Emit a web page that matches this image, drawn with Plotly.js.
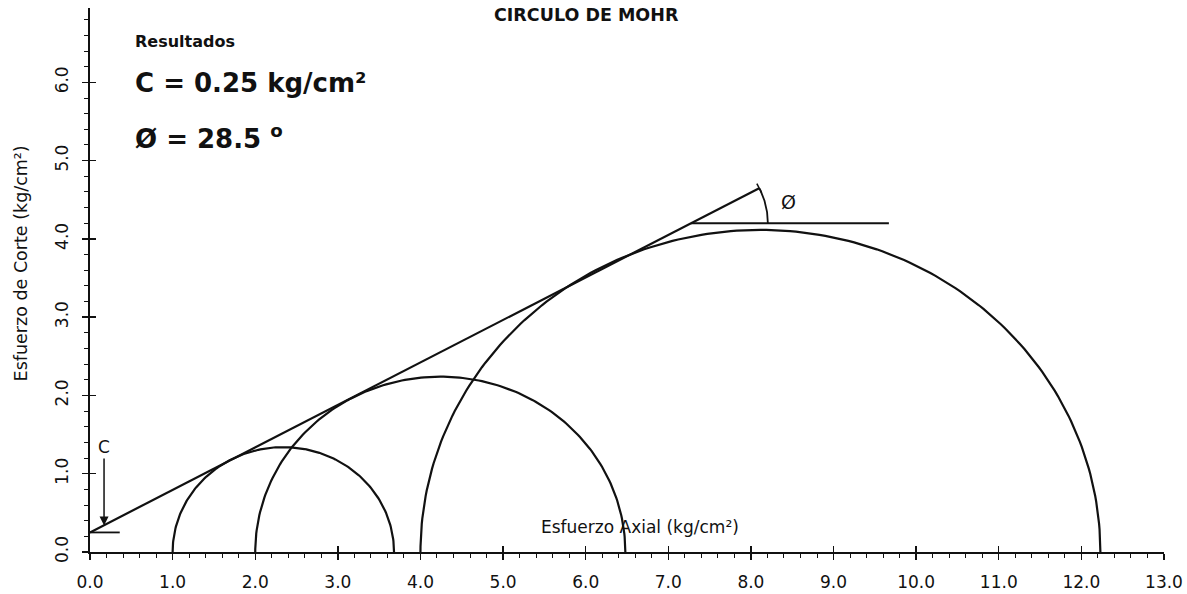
<!DOCTYPE html>
<html>
<head>
<meta charset="utf-8">
<script src="https://cdn.plot.ly/plotly-3.0.1.min.js"></script>
<style>
  html, body { margin: 0; padding: 0; background: #fff; }
  #chart { width: 1187px; height: 594px; }
</style>
</head>
<body>
<div id="chart"></div>
<script>
// circle limits (kg/cm2)
var sigma3 = [1.0, 2.0, 4.0];
var sigma1 = [3.68, 6.48, 12.23];

// failure envelope, c = 0.25 and phi = 28.5 deg
var envX = [0, 8.1];
var envY = [0.25, 4.648];

// horizontal reference line for the angle
var refX = [7.275, 9.67];
var refY = [4.2, 4.2];

// cohesion marker
var cLineX = [0, 0.36];
var cLineY = [0.25, 0.25];
var cArrow = {x: 0.17, tip: 0.34, label: 1.34};

// angle arc: center, radius (x, y units) and sweep in degrees
var arcCenter = [7.275, 4.2];
var arcRadius = [0.93, 0.98];
var arcSweep = [0, 27.24];

// little tick crossing the envelope end
var endTickX = [8.128, 8.072];
var endTickY = [4.591, 4.705];

var cohesion = '0.25';
var phi = '28.5';

var black = '#111';
var font = 'DejaVu Sans, Verdana, sans-serif';

var traces = [];

sigma3.forEach(function (s3, i) {
  var s1 = sigma1[i];
  var c = (s1 + s3) / 2, r = (s1 - s3) / 2;
  var xs = [], ys = [];
  for (var a = 0; a <= 180; a++) {
    var t = a * Math.PI / 180;
    xs.push(c + r * Math.cos(t));
    ys.push(r * Math.sin(t));
  }
  traces.push({x: xs, y: ys, mode: 'lines', line: {color: black, width: 2.2}});
});

traces.push({x: envX, y: envY, mode: 'lines', line: {color: black, width: 2.2}});
traces.push({x: refX, y: refY, mode: 'lines', line: {color: black, width: 1.8}});
traces.push({x: cLineX, y: cLineY, mode: 'lines', line: {color: black, width: 1.8}});
traces.push({x: endTickX, y: endTickY, mode: 'lines', line: {color: black, width: 1.5}});

var ax = [], ay = [];
for (var d = arcSweep[0]; d <= arcSweep[1]; d += 0.5) {
  var t = d * Math.PI / 180;
  ax.push(arcCenter[0] + arcRadius[0] * Math.cos(t));
  ay.push(arcCenter[1] + arcRadius[1] * Math.sin(t));
}
ax.push(envX[1]); ay.push(envY[1]);
traces.push({x: ax, y: ay, mode: 'lines', line: {color: black, width: 1.8}});

// overlay axes only to get ticks crossing the axis lines
traces.push({x: [], y: [], xaxis: 'x2', yaxis: 'y2', showlegend: false});

var xr = [0, 13], yr = [0, 6.95];

var layout = {
  width: 1187, height: 594,
  margin: {l: 90, r: 23, t: 8, b: 42},
  paper_bgcolor: '#fff', plot_bgcolor: '#fff',
  showlegend: false,
  font: {family: font, color: black},
  xaxis: {
    range: xr, dtick: 1, tick0: 0, tickformat: '.1f',
    showgrid: false, zeroline: false,
    showline: true, linecolor: black, linewidth: 1.6,
    ticks: 'outside', ticklen: 6, tickwidth: 1.4, tickcolor: black,
    minor: {dtick: 0.2, ticks: 'outside', ticklen: 4, tickwidth: 1, tickcolor: black},
    tickfont: {size: 17, family: font, color: black},
    ticklabelstandoff: 8
  },
  yaxis: {
    range: yr, dtick: 1, tick0: 0, tickformat: '.1f', tickangle: -90,
    showgrid: false, zeroline: false,
    showline: true, linecolor: black, linewidth: 1.6,
    ticks: 'outside', ticklen: 6, tickwidth: 1.4, tickcolor: black,
    minor: {dtick: 0.2, ticks: 'outside', ticklen: 4, tickwidth: 1, tickcolor: black},
    tickfont: {size: 17, family: font, color: black},
    ticklabelstandoff: 8
  },
  xaxis2: {
    overlaying: 'x', range: xr, dtick: 1, tick0: 0, showticklabels: false,
    showgrid: false, zeroline: false, showline: false,
    ticks: 'inside', ticklen: 6, tickwidth: 1.4, tickcolor: black
  },
  yaxis2: {
    overlaying: 'y', range: yr, dtick: 1, tick0: 0, showticklabels: false,
    showgrid: false, zeroline: false, showline: false,
    ticks: 'inside', ticklen: 6, tickwidth: 1.4, tickcolor: black
  },
  annotations: [
    {text: '<b>CIRCULO DE MOHR</b>', xref: 'paper', yref: 'paper', x: 0.462, y: 0.987,
     yanchor: 'middle', showarrow: false, font: {size: 17.5, family: font, color: black}},
    {text: '<b>Resultados</b>', xref: 'paper', yref: 'paper', x: 0.040, y: 0.938,
     xanchor: 'left', yanchor: 'middle', showarrow: false, font: {size: 16, family: font, color: black}},
    {text: '<b>C = ' + cohesion + ' kg/cm²</b>', xref: 'paper', yref: 'paper', x: 0.040, y: 0.862,
     xanchor: 'left', yanchor: 'middle', showarrow: false, font: {size: 26, family: font, color: black}},
    {text: '<b>Ø = ' + phi + ' <sup>o</sup></b>', xref: 'paper', yref: 'paper', x: 0.040, y: 0.763,
     xanchor: 'left', yanchor: 'middle', showarrow: false, font: {size: 26, family: font, color: black}},
    {text: 'Esfuerzo de Corte (kg/cm²)', xref: 'paper', yref: 'paper', x: -0.064, y: 0.531,
     xanchor: 'center', yanchor: 'middle', textangle: -90, showarrow: false,
     font: {size: 17.5, family: font, color: black}},
    {text: 'Esfuerzo Axial (kg/cm²)', xref: 'x', yref: 'y', x: 6.66, y: 0.32,
     showarrow: false, font: {size: 17, family: font, color: black}},
    {text: 'Ø', xref: 'x', yref: 'y', x: 8.46, y: 4.47,
     showarrow: false, font: {size: 19, family: font, color: black}},
    {text: 'C', xref: 'x', yref: 'y', x: cArrow.x, y: cArrow.tip,
     axref: 'x', ayref: 'y', ax: cArrow.x, ay: cArrow.label,
     showarrow: true, arrowhead: 2, arrowsize: 1.2, arrowwidth: 1.5, arrowcolor: black,
     font: {size: 17, family: font, color: black}}
  ]
};

Plotly.newPlot('chart', traces, layout, {staticPlot: true});
</script>
</body>
</html>
